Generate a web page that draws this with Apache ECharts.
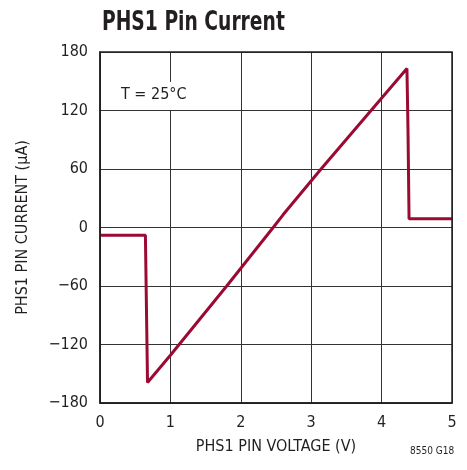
<!DOCTYPE html>
<html><head><meta charset="utf-8">
<script src="https://cdn.jsdelivr.net/npm/echarts@6/dist/echarts.min.js"></script>
<style>html,body{margin:0;padding:0;background:#fff}#c{width:467px;height:470px}</style>
</head><body><div id="c"></div>
<script>
const voltage = [0, 0.645, 0.675, 1.0, 1.8, 2.46, 2.6, 3.14, 4.36, 4.375, 4.39, 5.0];
const current = [-8, -8, -159, -131, -60, 0, 13, 60, 163, 100, 9, 9];
const xTicks = [0, 1, 2, 3, 4, 5];
const yTicks = [-180, -120, -60, 0, 60, 120, 180];
const FONT = '"DejaVu Sans Condensed","Liberation Sans",sans-serif';
const chart = echarts.init(document.getElementById('c'));
chart.setOption({
  animation: false,
  grid: {left: 100, right: 15, top: 52, bottom: 67},
  xAxis: {type: 'value', min: 0, max: 5, interval: 1,
    name: 'PHS1 PIN VOLTAGE (V)', nameLocation: 'middle', nameGap: 36,
    nameTextStyle: {fontFamily: FONT, fontSize: 16, color: '#231f20'},
    axisLine: {show: true, onZero: false, lineStyle: {color: '#231f20', width: 1.5}},
    axisTick: {show: false},
    axisLabel: {fontFamily: FONT, fontSize: 16, color: '#231f20', margin: 12},
    splitLine: {show: true, lineStyle: {color: '#333', width: 1}}},
  yAxis: {type: 'value', min: -180, max: 180, interval: 60,
    name: 'PHS1 PIN CURRENT (µA)', nameLocation: 'middle', nameGap: 69,
    nameTextStyle: {fontFamily: FONT, fontSize: 16, color: '#231f20'},
    axisLine: {show: true, onZero: false, lineStyle: {color: '#231f20', width: 1.5}},
    axisTick: {show: false},
    axisLabel: {fontFamily: FONT, fontSize: 16, color: '#231f20', margin: 12,
      formatter: v => String(v).replace('-', '\u2212')},
    splitLine: {show: true, lineStyle: {color: '#333', width: 1}}},
  graphic: [
    {type: 'text', x: 102, y: 10, scaleX: 0.8, style: {text: 'PHS1 Pin Current', font: 'bold 26px ' + FONT, fill: '#231f20'}, z: 11},
    {type: 'rect', shape: {x: 100, y: 52, width: 352, height: 351}, style: {fill: 'none', stroke: '#231f20', lineWidth: 1.5}, z: 10},
    {type: 'rect', shape: {x: 114, y: 82, width: 80, height: 28}, style: {fill: '#fff'}, z: 5},
    {type: 'text', left: 121, top: 87, style: {text: 'T = 25°C', font: '16px ' + FONT, fill: '#231f20'}, z: 11},
    {type: 'text', left: 410, top: 446, style: {text: '8550 G18', font: '10px ' + FONT, fill: '#231f20'}, z: 11}
  ],
  series: [{type: 'line', data: voltage.map((v, i) => [v, current[i]]),
    showSymbol: false, symbol: 'none', z: 8,
    lineStyle: {color: '#9b0a33', width: 3}}]
});
</script></body></html>
